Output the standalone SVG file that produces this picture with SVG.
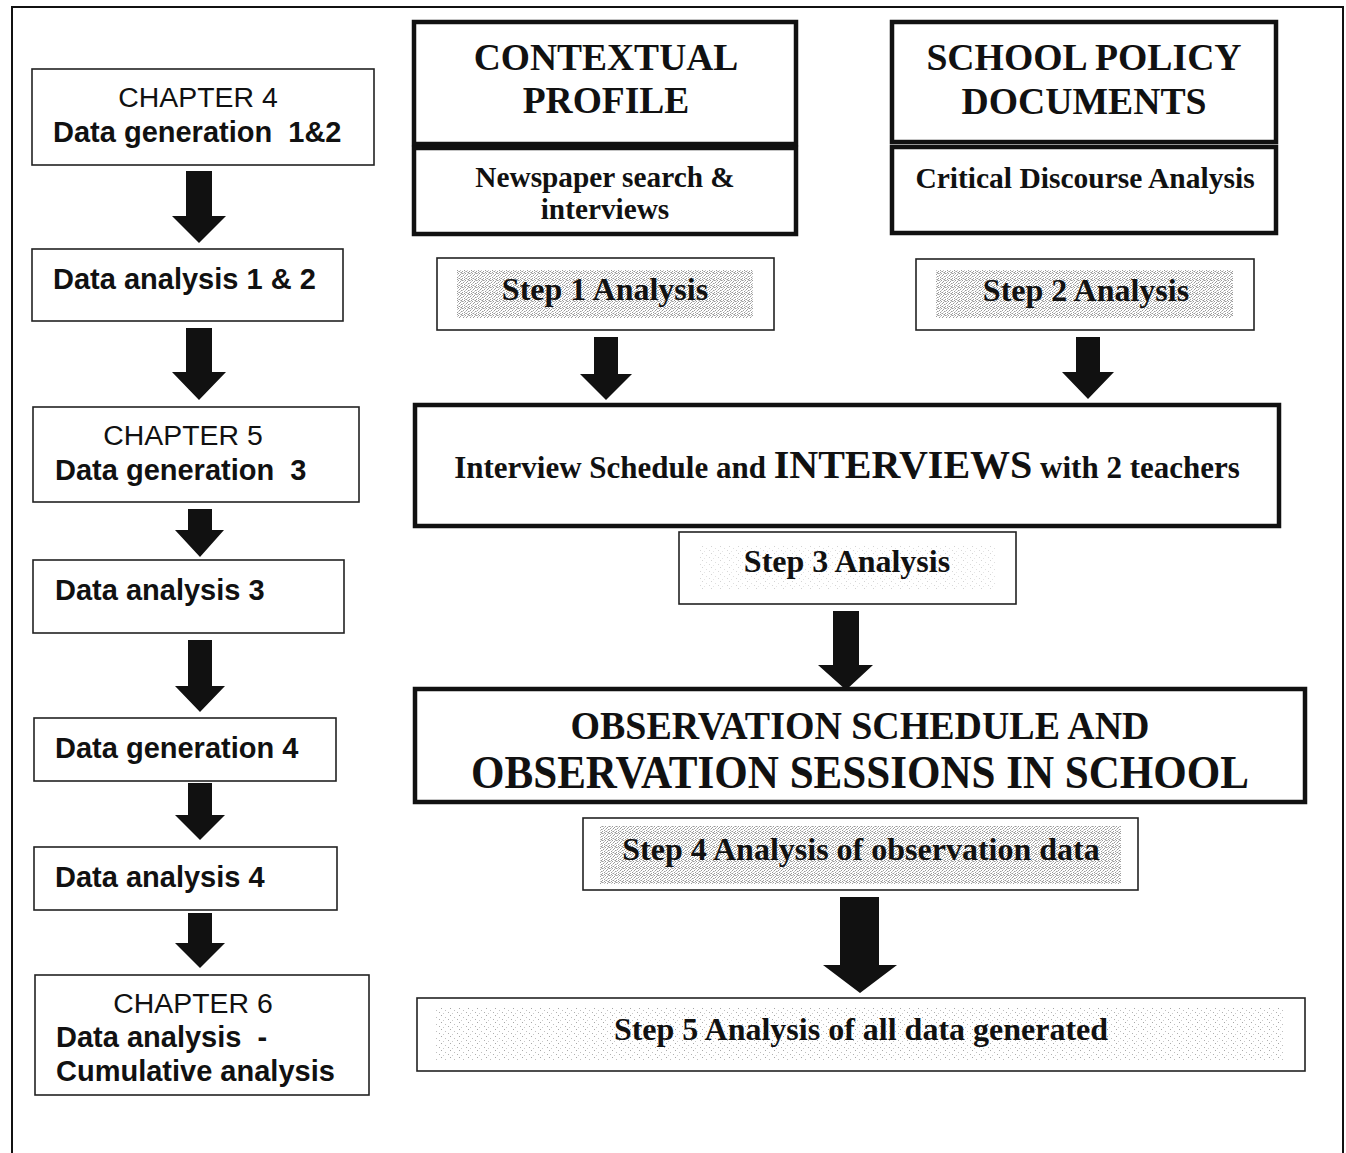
<svg xmlns="http://www.w3.org/2000/svg" width="1346" height="1153" viewBox="0 0 1346 1153">
  <defs>
    <!-- fine stipple used behind the analysis-step labels -->
    <pattern id="stipple" width="7" height="7" patternUnits="userSpaceOnUse">
      <rect width="7" height="7" fill="#ffffff"/>
      <g fill="#9a9a9a">
        <rect x="0" y="0" width="1" height="1"/><rect x="3" y="0" width="1" height="1"/><rect x="5" y="1" width="1" height="1"/>
        <rect x="1" y="2" width="1" height="1"/><rect x="4" y="2" width="1" height="1"/><rect x="6" y="3" width="1" height="1"/>
        <rect x="2" y="4" width="1" height="1"/><rect x="0" y="5" width="1" height="1"/><rect x="4" y="5" width="1" height="1"/>
        <rect x="2" y="6" width="1" height="1"/><rect x="6" y="6" width="1" height="1"/>
      </g>
      <g fill="#c6c6c6">
        <rect x="1" y="0" width="1" height="1"/><rect x="2" y="1" width="1" height="1"/><rect x="6" y="0" width="1" height="1"/>
        <rect x="3" y="3" width="1" height="1"/><rect x="0" y="3" width="1" height="1"/><rect x="5" y="4" width="1" height="1"/>
        <rect x="3" y="5" width="1" height="1"/><rect x="5" y="6" width="1" height="1"/>
      </g>
    </pattern>
    <pattern id="stippleLight" width="9" height="7" patternUnits="userSpaceOnUse">
      <rect width="9" height="7" fill="#ffffff"/>
      <rect x="0" y="0" width="1" height="1" fill="#a8a8a8"/>
      <rect x="4" y="2" width="1" height="1" fill="#c0c0c0"/>
      <rect x="7" y="4" width="1" height="1" fill="#b0b0b0"/>
      <rect x="2" y="5" width="1" height="1" fill="#cccccc"/>
    </pattern>
    <style>
      .frame { fill: none; stroke: #111; stroke-width: 2; }
      .box { fill: #fff; stroke: #222; stroke-width: 1.6; }
      .heavy { fill: #fff; stroke: #111; stroke-width: 4.5; }
      .arrow { fill: #111; stroke: none; }
      text { white-space: pre; }
      .sans { font-family: "Liberation Sans", Arial, sans-serif; font-size: 28.4px; fill: #111; }
      .sansb { font-family: "Liberation Sans", Arial, sans-serif; font-size: 29px; font-weight: bold; fill: #111; }
      .serif { font-family: "Liberation Serif", "Times New Roman", serif; font-weight: bold; fill: #111; }
      .step { font-size: 32px; }
    </style>
  </defs>

  <rect width="1346" height="1153" fill="#ffffff"/>

  <!-- page frame (open at the bottom edge) -->
  <path class="frame" d="M12,1160 V7 H1343 V1160"/>

  <!-- left column: chapters -->
  <g id="ch4">
    <rect class="box" x="32" y="69" width="342" height="96"/>
    <text class="sans" x="198" y="107" text-anchor="middle">CHAPTER 4</text>
    <text class="sansb" x="53" y="142">Data generation  1&amp;2</text>
  </g>
  <g id="da12">
    <rect class="box" x="32" y="249" width="311" height="72"/>
    <text class="sansb" x="53" y="289">Data analysis 1 &amp; 2</text>
  </g>
  <g id="ch5">
    <rect class="box" x="33" y="407" width="326" height="95"/>
    <text class="sans" x="183" y="445" text-anchor="middle">CHAPTER 5</text>
    <text class="sansb" x="55" y="480">Data generation  3</text>
  </g>
  <g id="da3">
    <rect class="box" x="33" y="560" width="311" height="73"/>
    <text class="sansb" x="55" y="600">Data analysis 3</text>
  </g>
  <g id="dg4">
    <rect class="box" x="34" y="718" width="302" height="63"/>
    <text class="sansb" x="55" y="758">Data generation 4</text>
  </g>
  <g id="da4">
    <rect class="box" x="34" y="847" width="303" height="63"/>
    <text class="sansb" x="55" y="887">Data analysis 4</text>
  </g>
  <g id="ch6">
    <rect class="box" x="35" y="975" width="334" height="120"/>
    <text class="sans" x="193" y="1013" text-anchor="middle">CHAPTER 6</text>
    <text class="sansb" x="56" y="1047">Data analysis  -</text>
    <text class="sansb" x="56" y="1081">Cumulative analysis</text>
  </g>

  <!-- contextual profile -->
  <g id="contextual">
    <rect class="heavy" x="414" y="22" width="382" height="122"/>
    <rect class="heavy" x="414" y="148" width="382" height="86"/>
    <text class="serif" x="606" y="70" font-size="37.5" text-anchor="middle">CONTEXTUAL</text>
    <text class="serif" x="606" y="113" font-size="37.5" text-anchor="middle">PROFILE</text>
    <text class="serif" x="605" y="187" font-size="29.3" text-anchor="middle">Newspaper search &amp;</text>
    <text class="serif" x="605" y="219" font-size="29.3" text-anchor="middle">interviews</text>
  </g>

  <!-- school policy documents -->
  <g id="policy">
    <rect class="heavy" x="892" y="22" width="384" height="120"/>
    <rect class="heavy" x="892" y="147" width="384" height="86"/>
    <text class="serif" x="1084" y="70" font-size="37.7" text-anchor="middle">SCHOOL POLICY</text>
    <text class="serif" x="1084" y="114" font-size="37.7" text-anchor="middle">DOCUMENTS</text>
    <text class="serif" x="1085" y="188" font-size="29.5" text-anchor="middle">Critical Discourse Analysis</text>
  </g>

  <g id="step1">
    <rect class="box" x="437" y="258" width="337" height="72"/>
    <rect x="457" y="270" width="296" height="48" fill="url(#stipple)"/>
    <text class="serif step" x="605" y="300" text-anchor="middle">Step 1 Analysis</text>
  </g>
  <g id="step2">
    <rect class="box" x="916" y="259" width="338" height="71"/>
    <rect x="936" y="270" width="297" height="48" fill="url(#stipple)"/>
    <text class="serif step" x="1086" y="301" text-anchor="middle">Step 2 Analysis</text>
  </g>

  <g id="interviews">
    <rect class="heavy" x="415" y="405" width="864" height="121"/>
    <text class="serif" x="847" y="478" font-size="31" text-anchor="middle">Interview Schedule and <tspan font-size="40">INTERVIEWS</tspan> with 2 teachers</text>
  </g>

  <g id="step3">
    <rect class="box" x="679" y="532" width="337" height="72"/>
    <rect x="700" y="545" width="296" height="45" fill="url(#stippleLight)" opacity="0.5"/>
    <text class="serif step" x="847" y="572" text-anchor="middle">Step 3 Analysis</text>
  </g>

  <g id="observation">
    <rect class="heavy" x="415" y="689" width="890" height="113"/>
    <text class="serif" x="860" y="739" font-size="41" text-anchor="middle" textLength="579" lengthAdjust="spacingAndGlyphs">OBSERVATION SCHEDULE AND</text>
    <text class="serif" x="860" y="788" font-size="47" text-anchor="middle" textLength="778" lengthAdjust="spacingAndGlyphs">OBSERVATION SESSIONS IN SCHOOL</text>
  </g>

  <g id="step4">
    <rect class="box" x="583" y="818" width="555" height="72"/>
    <rect x="600" y="826" width="521" height="58" fill="url(#stipple)"/>
    <text class="serif step" x="861" y="860" text-anchor="middle">Step 4 Analysis of observation data</text>
  </g>

  <g id="step5">
    <rect class="box" x="417" y="998" width="888" height="73"/>
    <rect x="435" y="1008" width="850" height="52" fill="url(#stippleLight)"/>
    <text class="serif step" x="861" y="1040" text-anchor="middle">Step 5 Analysis of all data generated</text>
  </g>

  <!-- block arrows -->
  <g id="connectors">
    <polygon class="arrow" points="186,171 212,171 212,216 226,216 199,243 172,216 186,216"/>
    <polygon class="arrow" points="186,328 212,328 212,372 226,372 199,400 172,372 186,372"/>
    <polygon class="arrow" points="188,509 212,509 212,530 224,530 200,557 175,530 188,530"/>
    <polygon class="arrow" points="188,640 212,640 212,686 225,686 200,712 175,686 188,686"/>
    <polygon class="arrow" points="188,783 212,783 212,815 225,815 200,840 175,815 188,815"/>
    <polygon class="arrow" points="188,913 212,913 212,943 225,943 200,968 175,943 188,943"/>
    <polygon class="arrow" points="594,337 618,337 618,374 632,374 606,400 580,374 594,374"/>
    <polygon class="arrow" points="1076,337 1100,337 1100,372 1114,372 1088,399 1062,372 1076,372"/>
    <polygon class="arrow" points="833,611 859,611 859,665 873,665 846,690 818,665 833,665"/>
    <polygon class="arrow" points="840,897 879,897 879,965 897,965 860,993 823,965 840,965"/>
  </g>
</svg>
